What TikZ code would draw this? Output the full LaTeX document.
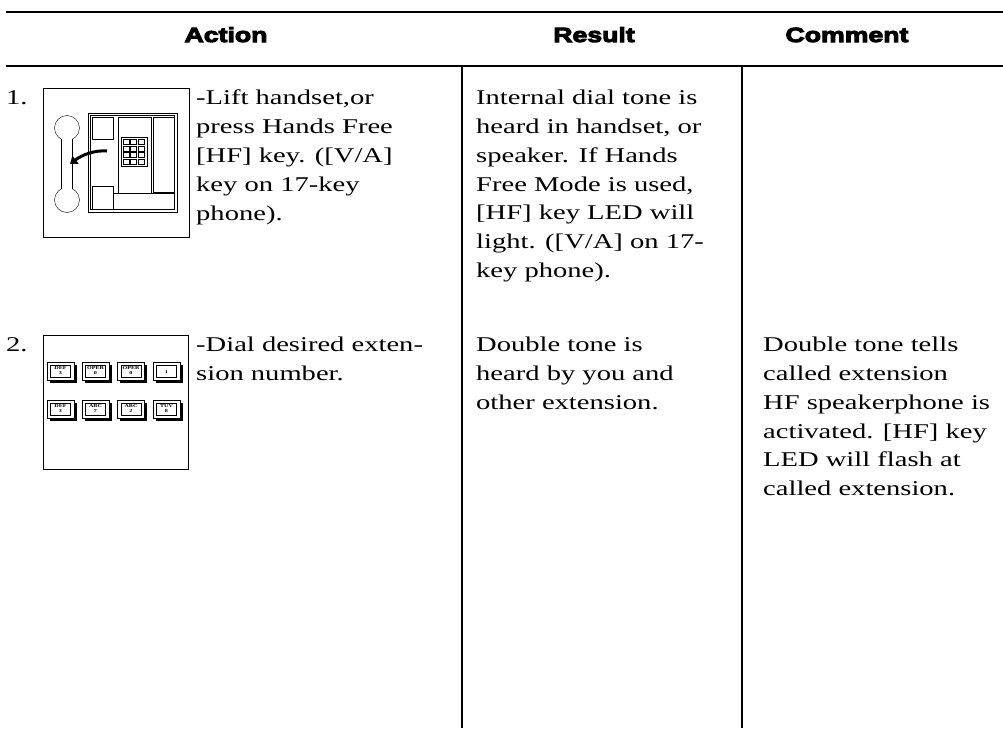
\documentclass[tikz,border=0pt]{standalone}
\usepackage{fontspec}
\setmainfont{Liberation Serif}[FakeStretch=1.36]
\newfontfamily\headfont{Liberation Sans}[FakeStretch=1.3, FakeBold=5]
\usetikzlibrary{arrows.meta}
\tikzset{
  rule/.style={line width=1.2pt},
  cell/.style={anchor=north west, align=left, inner sep=0pt, font=\fontsize{21}{28.8}\selectfont},
  head/.style={anchor=base, inner sep=0pt, font=\headfont\bfseries\fontsize{20.5}{22}\selectfont},
  keylabel/.style={inner sep=0pt, align=center, font=\bfseries\fontsize{4.5}{5}\selectfont},
}
\begin{document}
\begin{tikzpicture}[x=1pt, y=-1pt]
    \useasboundingbox (0,0) rectangle (1003,728) ;
    \draw [rule] (6,12) -- (1003,12) ;
    \draw [rule] (6,66) -- (1003,66) ;
    \draw [rule] (462,66) -- (462,728) ;
    \draw [rule] (742,66) -- (742,728) ;
    \node [head] (hact) at (226,42) {Action} ;
    \node [head] (hres) at (594,42) {Result} ;
    \node [head] (hcom) at (847,42) {Comment} ;

    \node [cell] (n1) at (6,90) {1.} ;
    \draw [line width=1pt] (43,88) rectangle (189,237) ;
    \draw (67,128) circle (12.5) ;
    \draw (67,200) circle (12.5) ;
    \fill [white] (61.9,131) rectangle (72.1,197) ;
    \draw (61.5,139) -- (61.5,189) ;
    \draw (72.5,139) -- (72.5,189) ;
    \draw [line width=0.9pt] (88,113) rectangle (177,212) ;
    \draw (90.5,115.5) rectangle (174.5,209.5) ;
    \draw (92,117) rectangle (113,139) ;
    \draw (92,186) rectangle (113,209) ;
    \draw (118,117) rectangle (151,193) ;
    \draw (153,117) rectangle (174,192) ;
    \draw (113,193) -- (174,193) ;
    \draw [line width=0.9pt] (121,137) rectangle (147,166) ;
    \foreach \c in {0,1,2}
      \foreach \r in {0,1,2,3}
        \draw [line width=0.6pt] (123+7.5*\c,139.5+6.5*\r) rectangle ++(6,5) ;
    \draw [line width=3pt, -{Triangle[length=7pt,width=10pt]}] (107,151) .. controls (94,150) and (82,155) .. (70,164) ;
    \node [cell] (act1) at (196,90) {-Lift handset,or\\press Hands Free\\{}[HF] key. ([V/A]\\key on 17-key\\phone).} ;
    \node [cell] (res1) at (476,90) {Internal dial tone is\\heard in handset, or\\speaker. If Hands\\Free Mode is used,\\{}[HF] key LED will\\light. ([V/A] on 17-\\key phone).} ;

    \node [cell] (n2) at (6,337) {2.} ;
    \draw [line width=1pt] (43,335) rectangle (188,469) ;
    \foreach \x/\y/\t/\b [count=\i] in {47/362/DEF/3, 82/362/OPER/0, 117.5/362/OPER/0, 153/362/{}/1,
                                        47/400/DEF/3, 82/400/ABC/7, 117.5/400/ABC/2, 153/400/TUV/8} {
      \fill (\x+2.5,\y+2.5) rectangle ++(27,18) ;
      \draw [fill=white, line width=0.8pt] (\x,\y) rectangle ++(27,18) ;
      \draw [line width=0.5pt] (\x+3.5,\y+3) rectangle ++(20,12) ;
      \node [keylabel] (key\i) at (\x+13.5,\y+9) {\t\\\b} ;
    }
    \node [cell] (act2) at (196,337) {-Dial desired exten-\\sion number.} ;
    \node [cell] (res2) at (476,337) {Double tone is\\heard by you and\\other extension.} ;
    \node [cell] (com2) at (763,337) {Double tone tells\\called extension\\HF speakerphone is\\activated. [HF] key\\LED will flash at\\called extension.} ;
\end{tikzpicture}
\end{document}
